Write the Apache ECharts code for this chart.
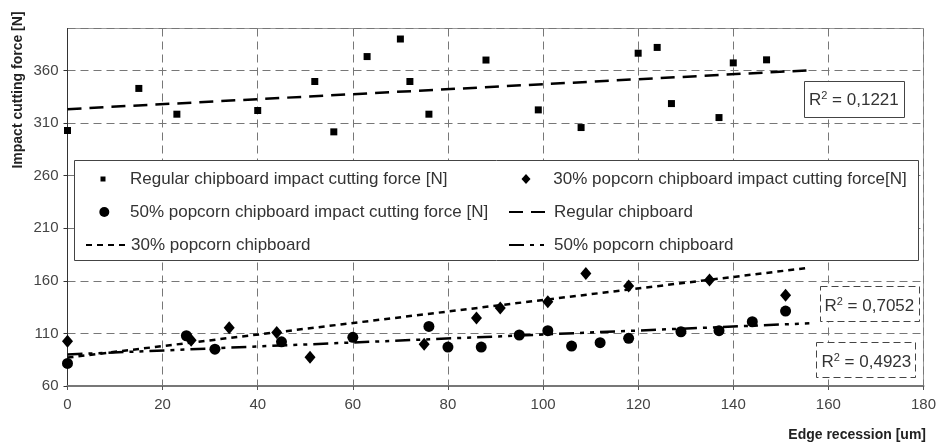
<!DOCTYPE html>
<html>
<head>
<meta charset="utf-8">
<script src="https://cdn.jsdelivr.net/npm/echarts@6/dist/echarts.min.js"></script>
<style>
	html, body { margin: 0; padding: 0; background: #fff; }
	#chart { width: 939px; height: 444px; }
</style>
</head>
<body>
<div id="chart"></div>
<script>
	// data
	var xTicks = [0, 20, 40, 60, 80, 100, 120, 140, 160, 180];
	var yTicks = [60, 110, 160, 210, 260, 310, 360];

	var regularX = [0, 15, 23, 40, 52, 56, 63, 70, 72, 76, 88, 99, 108, 120, 124, 127, 137, 140, 147];
	var regularY = [303, 343, 318.5, 322, 349.6, 301.7, 373.3, 390, 349.6, 318.5, 370, 322.6, 305.8, 376.5, 382, 328.6, 315.3, 367.3, 370.2];

	var pop30X = [0, 26, 34, 44, 51, 75, 86, 91, 101, 109, 118, 135, 151];
	var pop30Y = [102.5, 103.5, 115.5, 111, 87.3, 99.6, 124.6, 134.1, 140.1, 167.1, 155, 160.8, 146.3];

	var pop50X = [0, 25, 31, 45, 60, 76, 80, 87, 95, 101, 106, 112, 118, 129, 137, 144, 151];
	var pop50Y = [81.5, 107.8, 95, 102, 106.3, 116.7, 97, 97, 108.5, 112.6, 98, 101.2, 105.3, 111.6, 112.6, 121.1, 131.3];

	// trend lines: start and end points
	var trendX = [0, 156];
	var regularTrend = [323.3, 360.3];
	var pop30Trend = [87, 172.5];
	var pop50Trend = [90, 119.6];

	var r2Labels = ['0,1221', '0,7052', '0,4923'];

	var names = {
		regular: 'Regular chipboard impact cutting force [N]',
		pop30: '30% popcorn chipboard impact cutting force[N]',
		pop50: '50% popcorn chipboard impact cutting force [N]',
		regularLine: 'Regular chipboard',
		pop30Line: '30% popcorn chipboard',
		pop50Line: '50% popcorn chipboard'
	};

	var FONT = '"Liberation Sans", Arial, sans-serif';

	function zip(xs, ys) {
		var out = [];
		for(var i = 0; i < xs.length; i++) {
			out.push([xs[i], ys[i]]);
		}
		return out;
	}

	function legendItem(name, left, top, w, h, icon, pad) {
		var item = {
			data: [icon ? { name: name, icon: icon } : { name: name }],
			left: left,
			top: top,
			itemWidth: w,
			itemHeight: h,
			padding: 0,
			z: 20,
			selectedMode: false,
			textStyle: {
				fontFamily: FONT,
				fontSize: 17,
				color: '#333',
				padding: [0, 0, 0, pad]
			}
		};
		// line entries: hide the marker that ECharts puts on the line
		if(!icon) {
			item.itemStyle = { opacity: 0 };
		}
		return item;
	}

	function r2Text(value, x, y) {
		return {
			type: 'text',
			x: x,
			y: y,
			z: 21,
			style: {
				text: '{a|R}{s|2}{a| = ' + value + '}',
				verticalAlign: 'middle',
				align: 'left',
				fill: '#333',
				rich: {
					a: { fontFamily: FONT, fontSize: 17, lineHeight: 20, fill: '#333' },
					s: { fontFamily: FONT, fontSize: 11, lineHeight: 20, verticalAlign: 'top', fill: '#333' }
				}
			}
		};
	}

	function r2Box(x, y, w, h, dashed) {
		return {
			type: 'rect',
			z: 20,
			shape: { x: x, y: y, width: w, height: h },
			style: {
				fill: '#fff',
				stroke: '#444',
				lineWidth: 1,
				lineDash: dashed ? [7, 4] : null
			}
		};
	}

	var option = {
		backgroundColor: '#fff',
		animation: false,
		grid: {
			left: 67.5,
			right: 14,
			top: 28.5,
			bottom: 58,
			show: true,
			borderColor: '#999',
			borderWidth: 1
		},
		xAxis: {
			type: 'value',
			min: xTicks[0],
			max: xTicks[xTicks.length - 1],
			interval: 20,
			axisLine: { lineStyle: { color: '#777', width: 2 } },
			axisTick: { show: true, length: 4, lineStyle: { color: '#555' } },
			axisLabel: { fontFamily: FONT, fontSize: 15, color: '#444', margin: 11 },
			splitLine: { show: true, lineStyle: { color: '#777', type: [8, 5], width: 1 } }
		},
		yAxis: {
			type: 'value',
			min: yTicks[0],
			max: 400,
			interval: 50,
			axisLine: { show: true, lineStyle: { color: '#333', width: 1 } },
			axisTick: { show: true, length: 4, lineStyle: { color: '#333' } },
			axisLabel: { fontFamily: FONT, fontSize: 15, color: '#444', margin: 9, showMaxLabel: false },
			splitLine: { show: true, lineStyle: { color: '#777', type: [8, 5], width: 1 } }
		},
		legend: [
			legendItem(names.regular, 100.5, 170.5, 5, 5, 'rect', 19.5),
			legendItem(names.pop50, 99.3, 203.5, 10, 10, 'circle', 15.7),
			legendItem(names.pop30Line, 85, 236.5, 40, 10, null, 0),
			legendItem(names.pop30, 521.5, 170.5, 9, 10, 'diamond', 17.8),
			legendItem(names.regularLine, 508, 203.5, 40, 10, null, 0),
			legendItem(names.pop50Line, 508, 236.5, 40, 10, null, 0)
		],
		graphic: [{
				type: 'rect',
				z: 15,
				shape: { x: 74.5, y: 160.5, width: 844, height: 100 },
				style: { fill: '#fff', stroke: '#444', lineWidth: 1 }
			},
			r2Box(804.5, 81.5, 100, 36, false),
			r2Box(820.5, 286.5, 99, 35, true),
			r2Box(816.5, 342.5, 99, 35, true),
			r2Text(r2Labels[0], 809, 100.5),
			r2Text(r2Labels[1], 824.5, 306),
			r2Text(r2Labels[2], 821.5, 362),
			{
				type: 'text',
				x: 18,
				y: 90,
				rotation: Math.PI / 2,
				style: {
					text: 'Impact cutting force [N]',
					font: 'bold 14px ' + FONT,
					fill: '#222',
					align: 'center',
					verticalAlign: 'middle'
				}
			},
			{
				type: 'text',
				x: 926,
				y: 435,
				style: {
					text: 'Edge recession [um]',
					font: 'bold 14px ' + FONT,
					fill: '#222',
					align: 'right',
					verticalAlign: 'middle'
				}
			}
		],
		series: [{
				name: names.regularLine,
				type: 'line',
				symbol: 'none',
				z: 3,
				itemStyle: { color: '#000' },
				lineStyle: { color: '#000', width: 2.5, type: [14, 8] },
				data: zip(trendX, regularTrend)
			},
			{
				name: names.pop30Line,
				type: 'line',
				symbol: 'none',
				z: 3,
				itemStyle: { color: '#000' },
				lineStyle: { color: '#000', width: 2.5, type: [6, 5] },
				data: zip(trendX, pop30Trend)
			},
			{
				name: names.pop50Line,
				type: 'line',
				symbol: 'none',
				z: 3,
				itemStyle: { color: '#000' },
				lineStyle: { color: '#000', width: 2.5, type: [15, 6, 4, 6, 4, 6] },
				data: zip(trendX, pop50Trend)
			},
			{
				name: names.regular,
				type: 'scatter',
				symbol: 'rect',
				symbolSize: 7,
				z: 4,
				itemStyle: { color: '#000', opacity: 1 },
				data: zip(regularX, regularY)
			},
			{
				name: names.pop30,
				type: 'scatter',
				symbol: 'diamond',
				symbolSize: [11, 13],
				z: 4,
				itemStyle: { color: '#000', opacity: 1 },
				data: zip(pop30X, pop30Y)
			},
			{
				name: names.pop50,
				type: 'scatter',
				symbol: 'circle',
				symbolSize: 11,
				z: 4,
				itemStyle: { color: '#000', opacity: 1 },
				data: zip(pop50X, pop50Y)
			}
		]
	};

	var eChart = echarts.init(document.getElementById('chart'));
	eChart.setOption(option);
</script>
</body>
</html>
